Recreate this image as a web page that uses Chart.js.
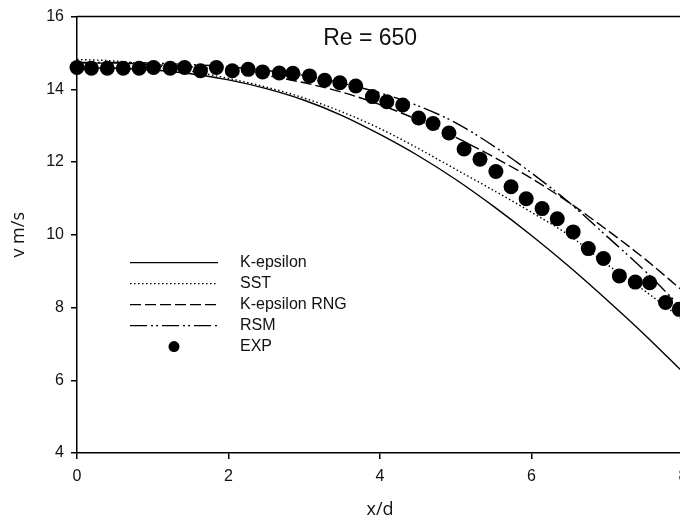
<!DOCTYPE html>
<html>
<head>
<meta charset="utf-8">
<script src="https://cdn.jsdelivr.net/npm/chart.js@4.4.1/dist/chart.umd.min.js"></script>
<style>
    html, body { margin: 0; padding: 0; background: #fff; overflow: hidden; }
    #chartCanvas { display: block; }
</style>
</head>
<body>
<canvas id="chartCanvas" width="700" height="522"></canvas>
<script>
// Centreline velocity along the jet, Re = 650
const modelX = [0, 0.5, 1, 1.5, 2, 2.5, 3, 3.5, 4, 4.5, 5, 5.5, 6, 6.5, 7, 7.5, 8];
const kEpsilon = [14.60, 14.58, 14.53, 14.43, 14.26, 14.02, 13.70, 13.28, 12.76, 12.18, 11.52, 10.78, 9.98, 9.12, 8.20, 7.24, 6.22];
const sst = [14.82, 14.78, 14.66, 14.50, 14.30, 14.06, 13.76, 13.38, 12.92, 12.38, 11.80, 11.22, 10.62, 9.98, 9.18, 8.45, 7.66];
const kEpsilonRng = [14.72, 14.72, 14.68, 14.62, 14.52, 14.38, 14.18, 13.92, 13.58, 13.16, 12.68, 12.14, 11.55, 10.88, 10.13, 9.33, 8.45];
const rsm = [14.74, 14.74, 14.72, 14.68, 14.62, 14.52, 14.38, 14.17, 13.90, 13.55, 13.08, 12.44, 11.70, 10.88, 9.95, 9.00, 7.95];

const expX = [0, 0.19, 0.40, 0.61, 0.82, 1.01, 1.23, 1.42, 1.63, 1.84, 2.05, 2.26, 2.45, 2.67, 2.85,
    3.07, 3.27, 3.47, 3.68, 3.90, 4.09, 4.30, 4.51, 4.70, 4.91, 5.11, 5.32, 5.53, 5.73, 5.93,
    6.14, 6.34, 6.55, 6.75, 6.95, 7.16, 7.37, 7.56, 7.77, 7.95];
const expV = [14.60, 14.58, 14.58, 14.58, 14.58, 14.60, 14.58, 14.60, 14.51, 14.60, 14.51, 14.55, 14.48, 14.45, 14.44,
    14.37, 14.25, 14.18, 14.09, 13.80, 13.66, 13.57, 13.21, 13.06, 12.80, 12.36, 12.08, 11.74, 11.32, 10.99,
    10.72, 10.44, 10.08, 9.62, 9.35, 8.87, 8.70, 8.68, 8.14, 7.95];

const xTicks = [0, 2, 4, 6, 8];
const yTicks = [4, 6, 8, 10, 12, 14, 16];

const seriesNames = ['K-epsilon', 'SST', 'K-epsilon RNG', 'RSM', 'EXP'];
const plotTitle = 'Re = 650';

const tickFont = { family: 'Liberation Sans, Arial, sans-serif', size: 16 };
const axisFont = { family: 'Open Sans, sans-serif', size: 18 };

function toPoints(xs, ys) {
    return xs.map((x, i) => ({ x: x, y: ys[i] }));
}

function lineSet(label, values, dash) {
    return {
        label: label,
        data: toPoints(modelX, values),
        borderColor: '#000',
        borderWidth: 1.4,
        borderDash: dash,
        pointRadius: 0,
        fill: false,
        cubicInterpolationMode: 'monotone'
    };
}

// frame line along the top of the plot
const framePlugin = {
    id: 'frame',
    afterDraw(chart) {
        const { ctx, chartArea } = chart;
        ctx.save();
        ctx.strokeStyle = '#000';
        ctx.lineWidth = 1.5;
        ctx.beginPath();
        ctx.moveTo(chartArea.left, chartArea.top);
        ctx.lineTo(chartArea.right, chartArea.top);
        ctx.lineTo(chartArea.right, chartArea.bottom);
        ctx.stroke();
        ctx.restore();
    }
};

// title and legend drawn inside the plot area
const insetPlugin = {
    id: 'inset',
    afterDraw(chart) {
        const { ctx, chartArea, scales } = chart;
        ctx.save();
        ctx.fillStyle = '#111';
        ctx.font = '23px Liberation Sans, Arial, sans-serif';
        ctx.textAlign = 'center';
        ctx.textBaseline = 'middle';
        ctx.fillText(plotTitle, scales.x.getPixelForValue(3.87), chartArea.top + 22);

        const x0 = chartArea.left + 53;
        const x1 = chartArea.left + 141;
        const textX = chartArea.left + 163;
        let y = chartArea.top + 246;
        ctx.font = '16px Liberation Sans, Arial, sans-serif';
        ctx.textAlign = 'left';
        chart.data.datasets.forEach(ds => {
            ctx.strokeStyle = '#000';
            ctx.fillStyle = '#000';
            if (ds.showLine === false) {
                ctx.beginPath();
                ctx.arc((x0 + x1) / 2, y, 5.5, 0, Math.PI * 2);
                ctx.fill();
            } else {
                ctx.lineWidth = ds.borderWidth;
                ctx.setLineDash(ds.borderDash || []);
                ctx.beginPath();
                ctx.moveTo(x0, y);
                ctx.lineTo(x1, y);
                ctx.stroke();
                ctx.setLineDash([]);
            }
            ctx.fillStyle = '#111';
            ctx.fillText(ds.label, textX, y);
            y += 21;
        });
        ctx.restore();
    }
};

const canvas = document.getElementById('chartCanvas');

const chart = new Chart(canvas.getContext('2d'), {
    type: 'scatter',
    data: {
        datasets: [
            lineSet(seriesNames[0], kEpsilon, []),
            lineSet(seriesNames[1], sst, [1.5, 2.5]),
            lineSet(seriesNames[2], kEpsilonRng, [11, 4]),
            lineSet(seriesNames[3], rsm, [17, 4, 2, 3, 2, 4]),
            {
                label: seriesNames[4],
                data: toPoints(expX, expV),
                showLine: false,
                pointRadius: 7.5,
                pointHoverRadius: 7.5,
                pointBackgroundColor: '#000',
                pointBorderColor: '#000',
                pointBorderWidth: 0,
                clip: false
            }
        ].map(ds => Object.assign({ showLine: true }, ds))
    },
    options: {
        responsive: false,
        animation: false,
        events: [],
        layout: { padding: { top: 16, right: 17, bottom: 0, left: 0 } },
        plugins: {
            legend: { display: false },
            tooltip: { enabled: false }
        },
        scales: {
            x: {
                type: 'linear',
                min: 0,
                max: 8,
                afterBuildTicks: scale => { scale.ticks = xTicks.map(v => ({ value: v })); },
                afterFit: scale => { scale.height = 69; },
                ticks: { color: '#111', font: tickFont, padding: 8, maxRotation: 0 },
                grid: { display: true, drawOnChartArea: false, drawTicks: true, tickLength: 6, color: '#000', lineWidth: 1.5 },
                border: { display: true, color: '#000', width: 1.5 },
                title: { display: true, text: 'x/d', color: '#111', font: axisFont, padding: { top: 0, bottom: 1 } }
            },
            y: {
                type: 'linear',
                min: 4,
                max: 16,
                afterBuildTicks: scale => { scale.ticks = yTicks.map(v => ({ value: v })); },
                afterFit: scale => { scale.width = 77; },
                ticks: { color: '#111', font: tickFont, padding: 7 },
                grid: { display: true, drawOnChartArea: false, drawTicks: true, tickLength: 6, color: '#000', lineWidth: 1.5 },
                border: { display: true, color: '#000', width: 1.5 },
                title: { display: true, text: 'v m/s', color: '#111', font: axisFont, padding: { top: 8, bottom: 0 } }
            }
        }
    },
    plugins: [framePlugin, insetPlugin]
});
</script>
</body>
</html>
